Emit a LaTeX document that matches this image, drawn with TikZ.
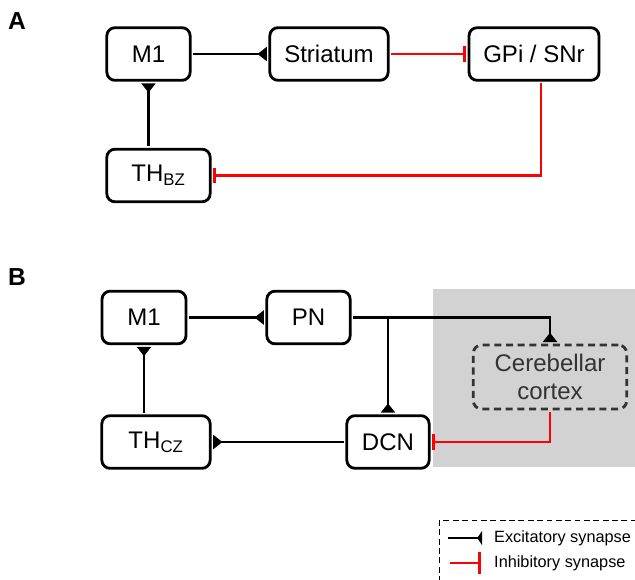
\documentclass[tikz,border=0pt]{standalone}
\usepackage{fontspec}
\setmainfont{Liberation Sans}
\usetikzlibrary{positioning,arrows.meta,calc}

\begin{document}
\begin{tikzpicture}[
  x=0.03cm, y=-0.03cm,
  area/.style={draw, line width=2.4pt, rounded corners=7pt, minimum height=1.58cm,
               align=center, font=\fontsize{20.5}{24}\selectfont, outer sep=2.5pt},
  exc/.style={line width=2.3pt, -{Triangle[reversed, length=8pt, width=12pt]}},
  inh/.style={line width=2.3pt, red, -{Bar[width=13pt]}},
  panel/.style={font=\fontsize{21}{21}\selectfont\bfseries},
  lgd/.style={anchor=west, font=\fontsize{13.9}{17}\selectfont, inner sep=0pt}
]
  \useasboundingbox (0,0) rectangle (635,579);

  % panel A
  \node[panel] (labA) at (17,21) {A};
  \node[area, minimum width=2.5cm] (m1a) at (148.5,54) {M1};
  \node[area, minimum width=3.55cm] (stri) at (329,54) {Striatum};
  \node[area, minimum width=3.9cm] (gpi) at (534,54) {GPi / SNr};
  \node[area, minimum width=3.1cm] (thbz) at (158.5,175.5) {TH\textsubscript{BZ}};

  \draw[exc] (m1a) -- (stri);
  \draw[exc] (thbz.north -| m1a) -- (m1a);
  \draw[inh] (stri) -- (gpi);
  \draw[inh] ($(gpi.south)+(7,0)$) |- (thbz);

  % panel B
  \node[panel] (labB) at (17,277) {B};
  \fill[gray!35] (433,289) rectangle (635,467);
  \node[area, minimum width=2.52cm] (m1b) at (144,317.5) {M1};
  \node[area, minimum width=2.5cm] (pn) at (308.5,317.5) {PN};
  \node[area, minimum width=3.25cm] (thcz) at (156,442) {TH\textsubscript{CZ}};
  \node[area, minimum width=2.47cm] (dcn) at (388,442) {DCN};
  \node[area, draw=black!80, text=black!80, dash pattern=on 6pt off 4pt,
        minimum width=4.6cm, minimum height=1.92cm] (cctx) at (550,377) {Cerebellar\\cortex};

  \draw[exc] (m1b) -- (pn);
  \draw[exc] (thcz.north -| m1b) -- (m1b);
  \draw[exc] (dcn) -- (thcz);
  \draw[exc] (pn) -| (cctx);
  \draw[exc] (dcn.north |- pn.east) -- (dcn);
  \draw[inh] (cctx) |- (dcn);

  % legend
  \draw[line width=0.8pt, dash pattern=on 5pt off 3pt] (439,520) rectangle (650,600);
  \coordinate (e1) at (448,538);
  \coordinate (e2) at (482,538);
  \coordinate (i1) at (450,563);
  \coordinate (i2) at (481,563);
  \draw[exc, -{Triangle[reversed, length=4pt, width=12pt]}] (e1) -- (e2);
  \node[lgd] (exclbl) at (494,538) {Excitatory synapse};
  \draw[inh, -{Bar[width=18pt]}] (i1) -- (i2);
  \node[lgd] (inhlbl) at (494,563) {Inhibitory synapse};
\end{tikzpicture}
\end{document}
